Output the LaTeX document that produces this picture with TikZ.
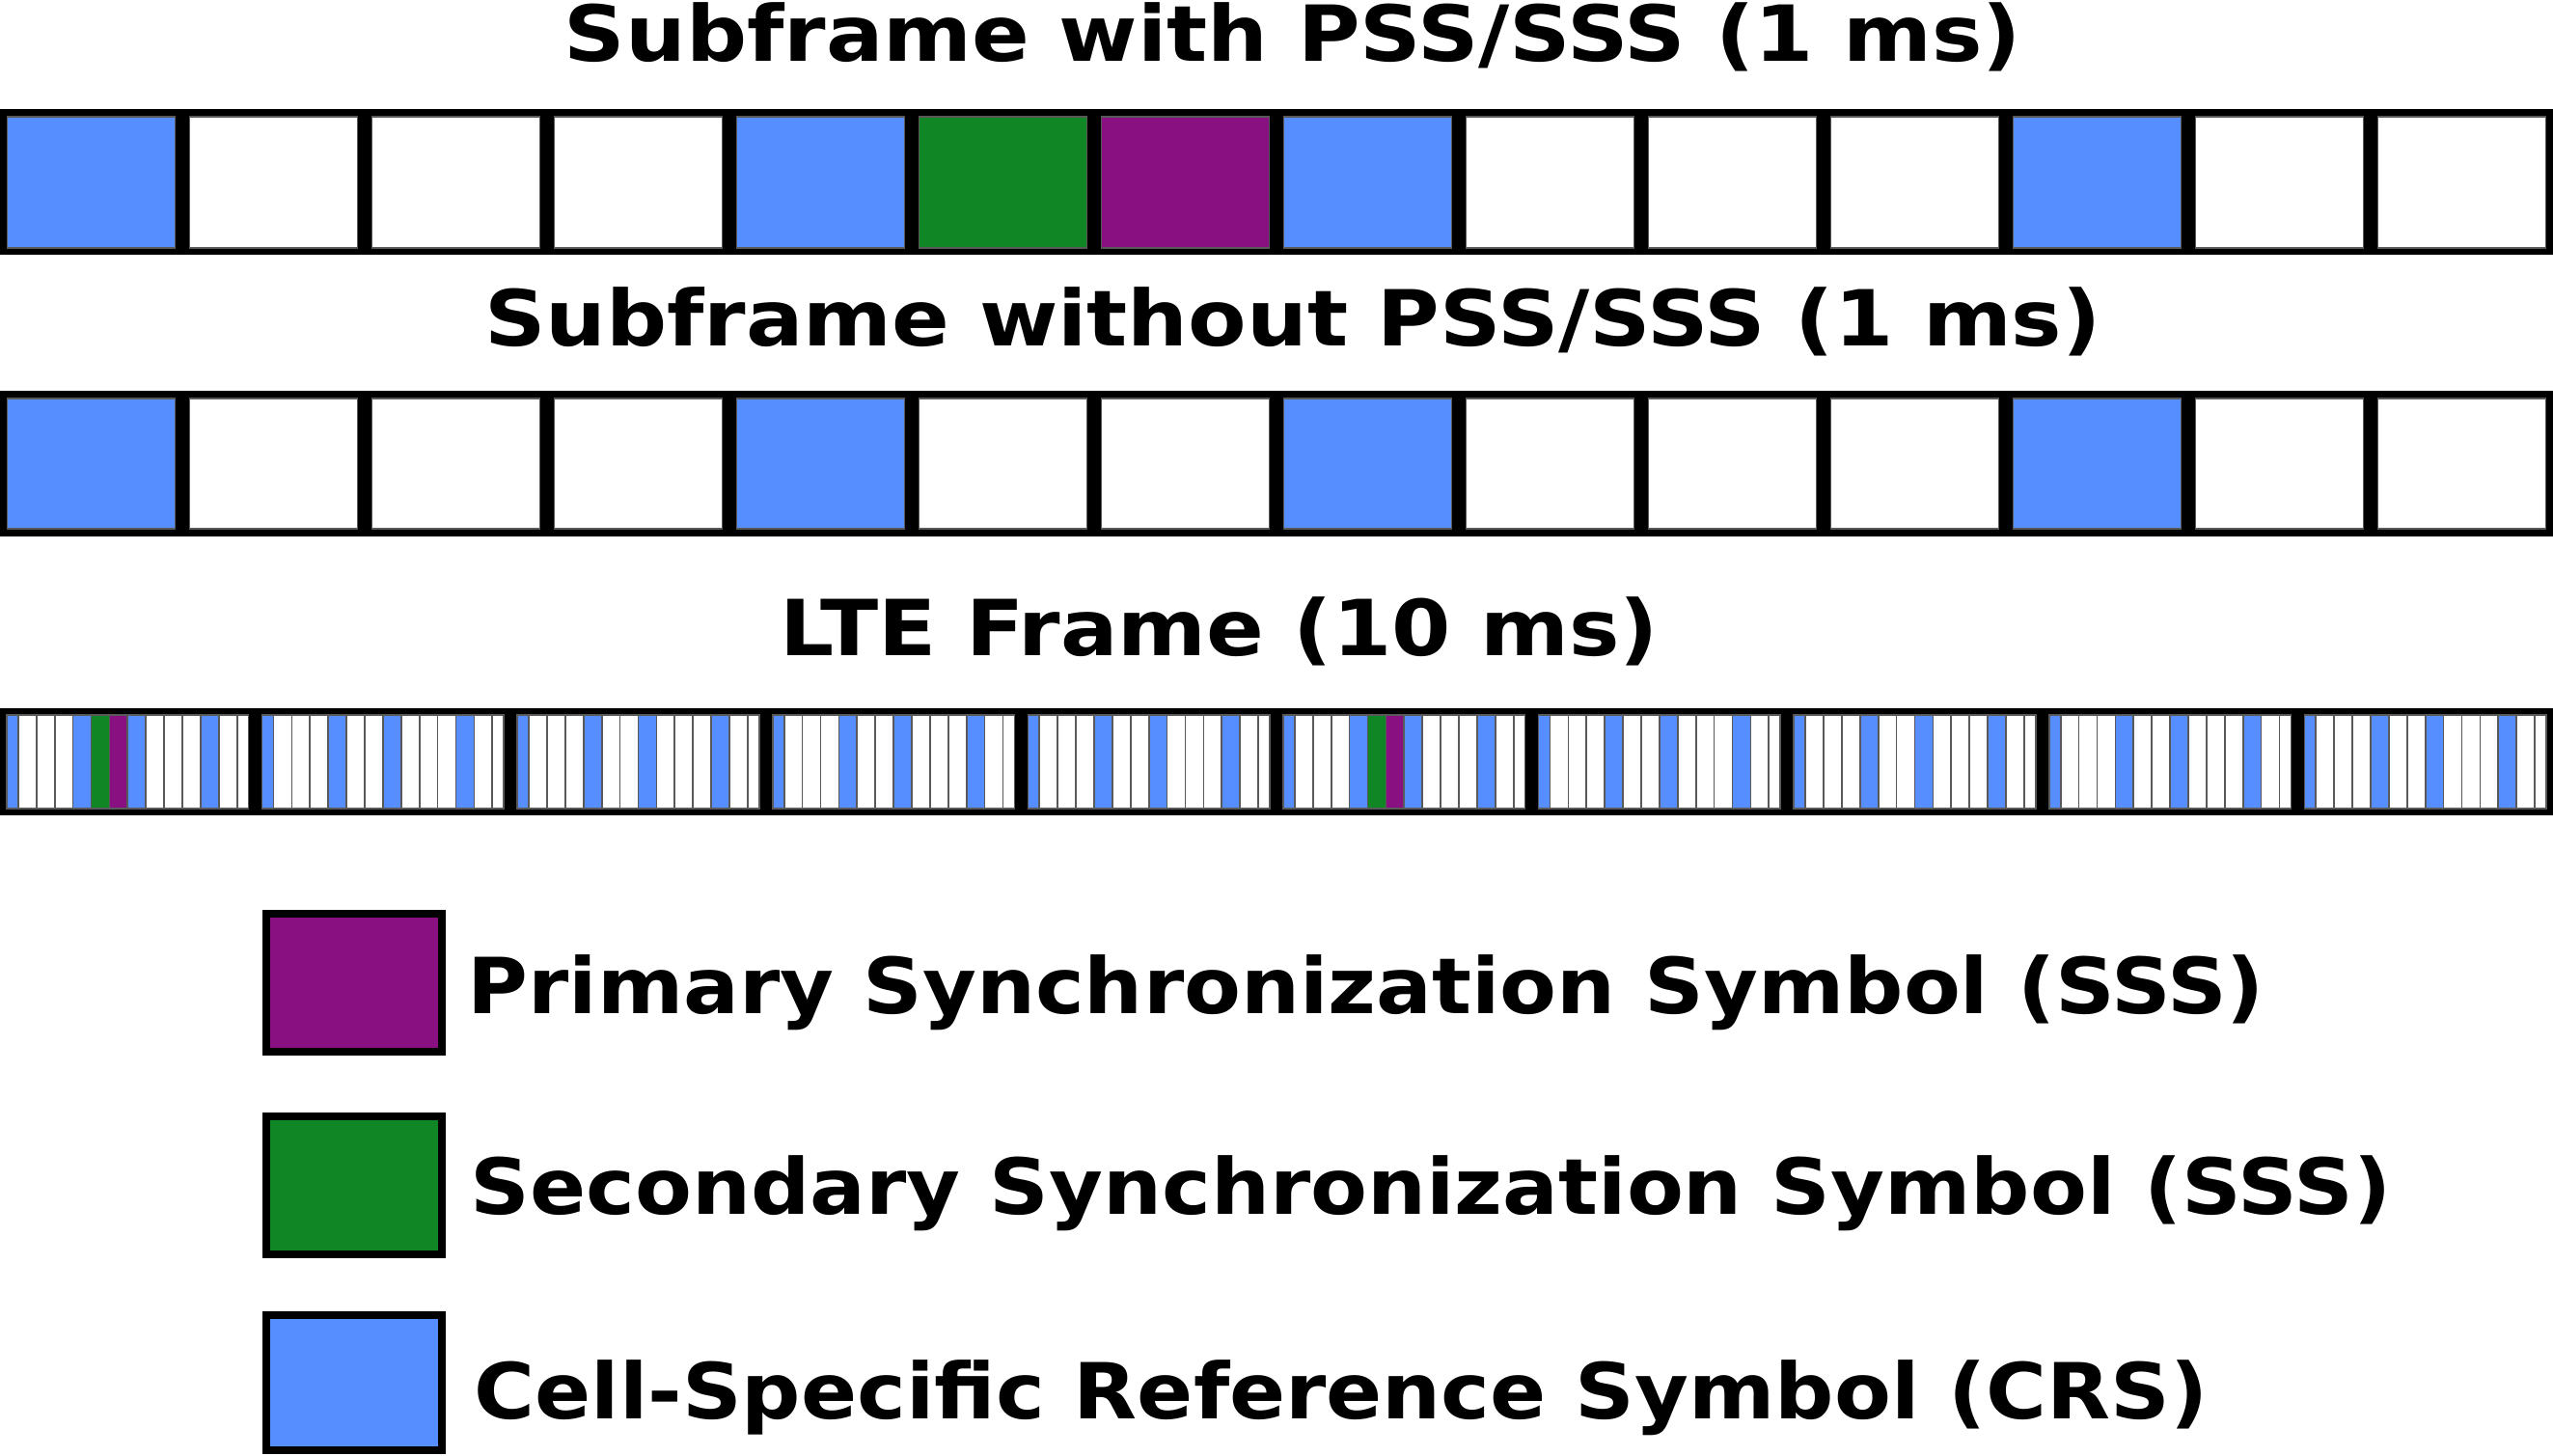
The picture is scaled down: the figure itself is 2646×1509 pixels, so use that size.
\documentclass[tikz,border=0pt]{standalone}
\usepackage{fontspec}
\setmainfont{DejaVu Sans}
\newfontfamily\ttlfont[FakeStretch=1.10]{DejaVu Sans}
\newfontfamily\lgfont[FakeStretch=1.07]{DejaVu Sans}
\definecolor{crs}{RGB}{86,142,255}
\definecolor{sss}{RGB}{16,134,36}
\definecolor{pss}{RGB}{136,16,128}
\tikzset{
  cellbox/.style={draw=black!65, line width=0.35pt},
  lgbox/.style={draw=black, line width=2.1pt},
  ttl/.style={font=\ttlfont\bfseries\fontsize{22.8pt}{27pt}\selectfont, inner sep=0pt, anchor=base},
  lgtext/.style={font=\lgfont\bfseries\fontsize{22.8pt}{27pt}\selectfont, inner sep=0pt, anchor=base west}
}
\begin{document}
\begin{tikzpicture}[x=0.1mm,y=-0.1mm]
\useasboundingbox (0,0) rectangle (2646,1509);
% titles
\node[ttl] (t1) at (1340,64) {Subframe with PSS/SSS (1 ms)};
\node[ttl] (t2) at (1340,359) {Subframe without PSS/SSS (1 ms)};
\node[ttl] (t3) at (1264,680) {LTE Frame (10 ms)};
% row 1
\fill[black] (0,113) rectangle (2646,264);
\foreach \c [count=\i from 0] in {crs,white,white,white,crs,sss,pss,crs,white,white,white,crs,white,white}{
  \filldraw[cellbox, fill=\c] ({189*\i+7.5},121) rectangle ({189*(\i+1)-7.5},257);
}
% row 2
\fill[black] (0,405) rectangle (2646,556);
\foreach \c [count=\i from 0] in {crs,white,white,white,crs,white,white,crs,white,white,white,crs,white,white}{
  \filldraw[cellbox, fill=\c] ({189*\i+7.5},413) rectangle ({189*(\i+1)-7.5},548);
}
% LTE frame
\fill[black] (0,734) rectangle (2646,845);
\foreach \k in {0,...,9}{
  \pgfmathsetmacro{\xo}{264.6*\k}
  \foreach \c [count=\i from 0] in {crs,white,white,white,crs,sss,pss,crs,white,white,white,crs,white,white}{
    \pgfmathsetmacro{\xl}{max(\xo+18.9*\i,\xo+7)}
    \pgfmathsetmacro{\xr}{min(\xo+18.9*(\i+1),\xo+257.6)}
    \ifnum\k=0 \def\cc{\c}\else\ifnum\k=5 \def\cc{\c}\else
      \ifnum\i=5 \def\cc{white}\else\ifnum\i=6 \def\cc{white}\else\def\cc{\c}\fi\fi\fi\fi
    \filldraw[cellbox, line width=0.5pt, fill=\cc] (\xl,741) rectangle (\xr,838);
  }
}
% legend
\filldraw[lgbox, fill=pss] (276,947) rectangle (458,1090);
\filldraw[lgbox, fill=sss] (276,1157) rectangle (458,1300);
\filldraw[lgbox, fill=crs] (276,1363) rectangle (458,1503);
\node[lgtext] (l1) at (484,1051) {Primary Synchronization Symbol (SSS)};
\node[lgtext] (l2) at (487,1259) {Secondary Synchronization Symbol (SSS)};
\node[lgtext] (l3) at (491,1471) {Cell-Specific Reference Symbol (CRS)};
\end{tikzpicture}
\end{document}
